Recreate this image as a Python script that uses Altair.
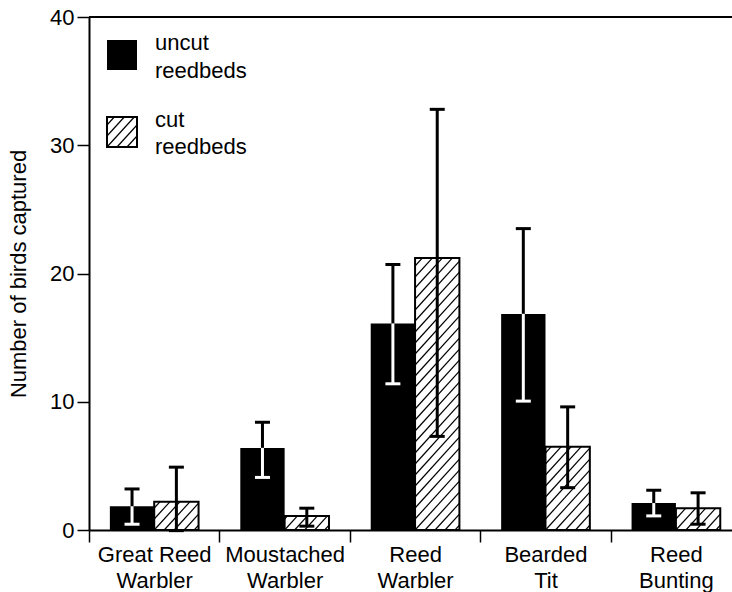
import json
import numpy as np
import pandas as pd
import altair as alt

# ---------------- data ----------------
species = ["Great Reed Warbler", "Moustached Warbler", "Reed Warbler", "Bearded Tit", "Reed Bunting"]
label_lines = [["Great Reed", "Warbler"], ["Moustached", "Warbler"], ["Reed", "Warbler"],
               ["Bearded", "Tit"], ["Reed", "Bunting"]]
uncut_mean = [1.85, 6.4, 16.1, 16.85, 2.1]
uncut_low = [0.45, 4.1, 11.4, 10.05, 1.1]
uncut_high = [3.2, 8.4, 20.7, 23.5, 3.1]
cut_mean = [2.2, 1.1, 21.2, 6.5, 1.7]
cut_low = [-0.05, 0.3, 7.3, 3.3, 0.45]
cut_high = [4.9, 1.7, 32.8, 9.6, 2.9]
y_ticks = [0, 10, 20, 30, 40]
y_title = "Number of birds captured"
legend_labels = [["uncut", "reedbeds"], ["cut", "reedbeds"]]

# ---------------- layout / style ----------------
FONT = "Liberation Sans"
FS = 22
W, H = 643, 513
PAD = {"left": 89, "top": 17, "right": 0, "bottom": 62}
X_MIN, X_MAX = -0.5, 4.43
Y_MAX = 40
SX = W / (X_MAX - X_MIN)
SY = H / Y_MAX
HALF = 0.34          # bar width in category units
CAP = 7.5            # half cap width, px
HATCH_SLOPE = 1.1
HATCH_STEP = 11.0    # vertical spacing in px

rows = []
for i, s in enumerate(species):
    rows.append(dict(species=s, grp="uncut", x0=i - HALF, x1=i, mid=i - HALF / 2,
                     zero=0.0, mean=uncut_mean[i], low=uncut_low[i], high=uncut_high[i]))
    rows.append(dict(species=s, grp="cut", x0=i, x1=i + HALF, mid=i + HALF / 2,
                     zero=0.0, mean=cut_mean[i], low=cut_low[i], high=cut_high[i]))
df = pd.DataFrame(rows)
uncut_df = df[df.grp == "uncut"]
cut_df = df[df.grp == "cut"]


def hatch(px0, px1, py0, py1, slope, step):
    """Lines y = slope*x + c clipped to rectangle (pixel space, y up)."""
    segs = []
    c0 = py0 - slope * px0
    k_min = int(np.floor((py0 - slope * px1 - c0) / step)) - 1
    k_max = int(np.ceil((py1 - slope * px0 - c0) / step)) + 1
    for k in range(k_min, k_max + 1):
        c = c0 + k * step
        xa = max(px0, (py0 - c) / slope)
        xb = min(px1, (py1 - c) / slope)
        if xb - xa > 0.5:
            segs.append((xa, slope * xa + c, xb, slope * xb + c))
    return segs


hrows = []
for _, r in cut_df.iterrows():
    for xa, ya, xb, yb in hatch(r.x0 * SX, r.x1 * SX, 0.0, r["mean"] * SY, HATCH_SLOPE, HATCH_STEP):
        hrows.append(dict(hx=xa / SX, hy=ya / SY, hx2=xb / SX, hy2=yb / SY))
hatch_df = pd.DataFrame(hrows)

xscale = alt.Scale(domain=[X_MIN, X_MAX], nice=False, zero=False)
yscale = alt.Scale(domain=[0, Y_MAX], nice=False, zero=False)

label_expr = f"{json.dumps(label_lines)}[round(datum.value + 0.5)]"
x_axis = alt.Axis(values=[i - 0.5 for i in range(len(species))], labelExpr=label_expr,
                  labelOffset=SX / 2, labelAlign="center", labelBaseline="top",
                  labelFontSize=FS, labelFont=FONT, labelColor="black", labelLineHeight=26,
                  labelPadding=2, labelOverlap=False, labelBound=False, labelFlush=False,
                  tickSize=12, tickWidth=1.5, tickColor="black", domainColor="black",
                  domainWidth=2, grid=False, title=None)
y_axis = alt.Axis(values=y_ticks, labelFontSize=FS, labelFont=FONT, labelColor="black",
                  labelPadding=3, labelFlush=False, labelOverlap=False,
                  tickSize=12, tickWidth=1.5, tickColor="black", domainColor="black",
                  domainWidth=2, grid=False, title=y_title, titleFont=FONT,
                  titleFontSize=FS, titleFontWeight="normal", titleColor="black",
                  titlePadding=19)


def X(field):
    return alt.X(field, type="quantitative", scale=xscale, axis=x_axis)


def Y(field):
    return alt.Y(field, type="quantitative", scale=yscale, axis=y_axis)


uncut_bars = alt.Chart(uncut_df).mark_rect(fill="black").encode(
    x=X("x0"), x2="x1", y=Y("zero"), y2="mean")
cut_bars = alt.Chart(cut_df).mark_rect(fill="white", stroke="black", strokeWidth=2).encode(
    x=X("x0"), x2="x1", y=Y("zero"), y2="mean")
hatch_lines = alt.Chart(hatch_df).mark_rule(color="black", strokeWidth=1.2).encode(
    x=X("hx"), x2="hx2", y=Y("hy"), y2="hy2")

# error bars for cut reedbeds (black)
cut_err = alt.Chart(cut_df).mark_rule(color="black", strokeWidth=3).encode(
    x=X("mid"), y=Y("low"), y2="high")
cut_cap_hi = alt.Chart(cut_df).mark_rule(color="black", strokeWidth=3,
                                         xOffset=-CAP, x2Offset=CAP).encode(
    x=X("mid"), x2="mid", y=Y("high"))
cut_cap_lo = alt.Chart(cut_df).mark_rule(color="black", strokeWidth=3,
                                         xOffset=-CAP, x2Offset=CAP).encode(
    x=X("mid"), x2="mid", y=Y("low"))

# error bars for uncut reedbeds: black above the bar, white inside it
unc_err_top = alt.Chart(uncut_df).mark_rule(color="black", strokeWidth=3).encode(
    x=X("mid"), y=Y("mean"), y2="high")
unc_cap_hi = alt.Chart(uncut_df).mark_rule(color="black", strokeWidth=3,
                                           xOffset=-CAP, x2Offset=CAP).encode(
    x=X("mid"), x2="mid", y=Y("high"))
unc_err_bot = alt.Chart(uncut_df).mark_rule(color="white", strokeWidth=3).encode(
    x=X("mid"), y=Y("low"), y2="mean")
unc_cap_lo = alt.Chart(uncut_df).mark_rule(color="white", strokeWidth=3,
                                           xOffset=-CAP, x2Offset=CAP).encode(
    x=X("mid"), x2="mid", y=Y("low"))

one = alt.Data(values=[{"a": 1}])
top_rule = alt.Chart(one).mark_rule(color="black", strokeWidth=2).encode(
    y=alt.datum(Y_MAX, type="quantitative", scale=yscale, axis=y_axis))

# ---------------- legend (drawn by hand) ----------------
LX0, LX1 = 18, 48
L1Y0, L1Y1 = 23, 53
L2Y0, L2Y1 = 100, 130
TX = 66
legend_layers = [
    alt.Chart(one).mark_rect(fill="black").encode(
        x=alt.value(LX0), x2=alt.value(LX1), y=alt.value(L1Y0), y2=alt.value(L1Y1)),
    alt.Chart(one).mark_rect(fill="white", stroke="black", strokeWidth=2).encode(
        x=alt.value(LX0), x2=alt.value(LX1), y=alt.value(L2Y0), y2=alt.value(L2Y1)),
]
for xa, ya, xb, yb in hatch(LX0, LX1, 0.0, L2Y1 - L2Y0, HATCH_SLOPE, HATCH_STEP):
    legend_layers.append(alt.Chart(one).mark_rule(color="black", strokeWidth=1.2).encode(
        x=alt.value(xa), x2=alt.value(xb), y=alt.value(L2Y1 - ya), y2=alt.value(L2Y1 - yb)))
legend_layers.append(alt.Chart(one).mark_text(
    font=FONT, fontSize=FS, align="left", baseline="alphabetic", lineHeight=28, color="black").encode(
    x=alt.value(TX), y=alt.value(33), text=alt.value(legend_labels[0])))
legend_layers.append(alt.Chart(one).mark_text(
    font=FONT, fontSize=FS, align="left", baseline="alphabetic", lineHeight=27, color="black").encode(
    x=alt.value(TX), y=alt.value(110), text=alt.value(legend_labels[1])))

chart = alt.layer(
    uncut_bars, cut_bars, hatch_lines,
    cut_err, cut_cap_hi, cut_cap_lo,
    unc_err_top, unc_cap_hi, unc_err_bot, unc_cap_lo,
    top_rule, *legend_layers
).properties(
    width=W, height=H, padding=PAD,
    autosize=alt.AutoSizeParams(type="none"),
    background="white",
).configure_view(stroke=None)

chart.save("out.html", embed_options={"renderer": "svg", "actions": False})
